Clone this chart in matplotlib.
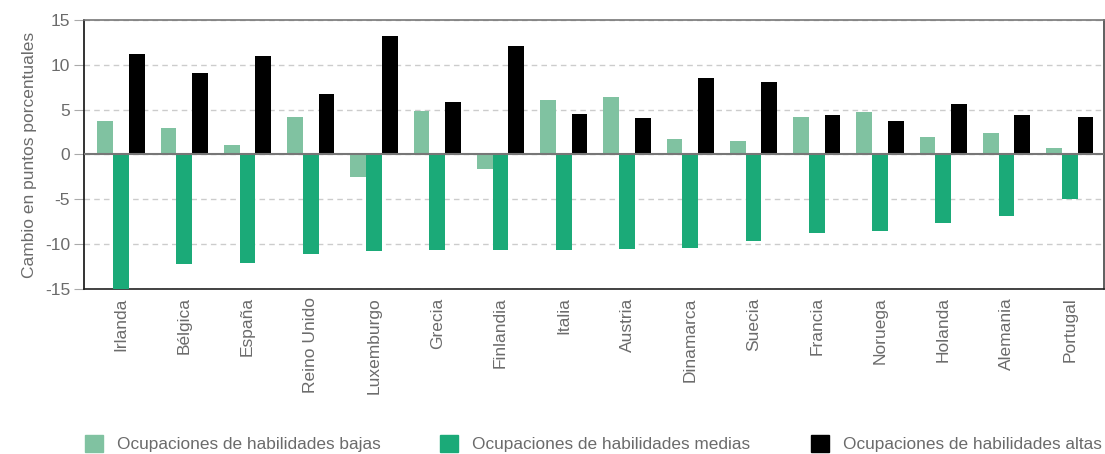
import numpy as np
import matplotlib.pyplot as plt
from matplotlib.patches import Patch

plt.rcParams['font.family'] = ['Liberation Sans', 'DejaVu Sans']
plt.rcParams['axes.unicode_minus'] = False

# Datos
paises = ['Irlanda', 'Bélgica', 'España', 'Reino Unido', 'Luxemburgo', 'Grecia',
          'Finlandia', 'Italia', 'Austria', 'Dinamarca', 'Suecia', 'Francia',
          'Noruega', 'Holanda', 'Alemania', 'Portugal']
bajas = [3.75, 2.95, 1.1, 4.2, -2.5, 4.85, -1.6, 6.1, 6.45, 1.75, 1.5, 4.2, 4.75, 1.95, 2.4, 0.75]
medias = [-15.0, -12.2, -12.05, -11.05, -10.8, -10.7, -10.6, -10.6, -10.5, -10.4, -9.6, -8.7, -8.5, -7.6, -6.85, -4.95]
altas = [11.2, 9.1, 11.0, 6.75, 13.2, 5.85, 12.1, 4.5, 4.1, 8.55, 8.1, 4.4, 3.75, 5.65, 4.4, 4.2]
etiquetas = ['Ocupaciones de habilidades bajas', 'Ocupaciones de habilidades medias',
             'Ocupaciones de habilidades altas']

c_bajas = '#80c2a1'
c_medias = '#1baa78'
c_altas = '#000000'
gris = '#6b6b6b'

x = np.arange(len(paises))
w = 0.25

fig = plt.figure(figsize=(11.05, 4.54), dpi=100)
ax = fig.add_axes([0.076, 0.3634, 0.923, 0.5926])

ax.bar(x - w, bajas, w, color=c_bajas, zorder=3)
ax.bar(x, medias, w, color=c_medias, zorder=3)
ax.bar(x + w, altas, w, color=c_altas, zorder=3)

ax.axhline(0, color='#777777', lw=1.5, zorder=4)
ax.set_ylim(-15, 15)
ax.set_xlim(-0.585, 15.54)
ax.set_yticks(np.arange(-15, 16, 5))
ax.yaxis.grid(True, linestyle=(0, (4, 3)), color='#cccccc', lw=1, zorder=0)

ax.set_xticks(x)
ax.set_xticklabels(paises, rotation=90, color=gris, fontsize=12.5)
ax.tick_params(axis='x', length=0, pad=6)
ax.tick_params(axis='y', length=7, color='#aaaaaa', labelcolor=gris, labelsize=12.5, pad=3)
ax.set_ylabel('Cambio en puntos porcentuales', color=gris, fontsize=12.5, labelpad=6)

ax.spines['left'].set_color('#111111')
ax.spines['bottom'].set_color('#222222')
ax.spines['top'].set_color('#777777')
ax.spines['right'].set_color('#444444')
for s in ax.spines.values():
    s.set_linewidth(1.2)

# leyenda: una entrada por posicion
colores = [c_bajas, c_medias, c_altas]
pos_x = [0.0656, 0.3869, 0.7226]
for col, txt, px in zip(colores, etiquetas, pos_x):
    fig.legend([Patch(color=col)], [txt], loc='lower left', bbox_to_anchor=(px, -0.023),
               frameon=False, fontsize=12.4, labelcolor=gris, handlelength=1.07,
               handleheight=1.07, handletextpad=0.8, borderaxespad=0.3)

fig.savefig('out.png', dpi=100)
